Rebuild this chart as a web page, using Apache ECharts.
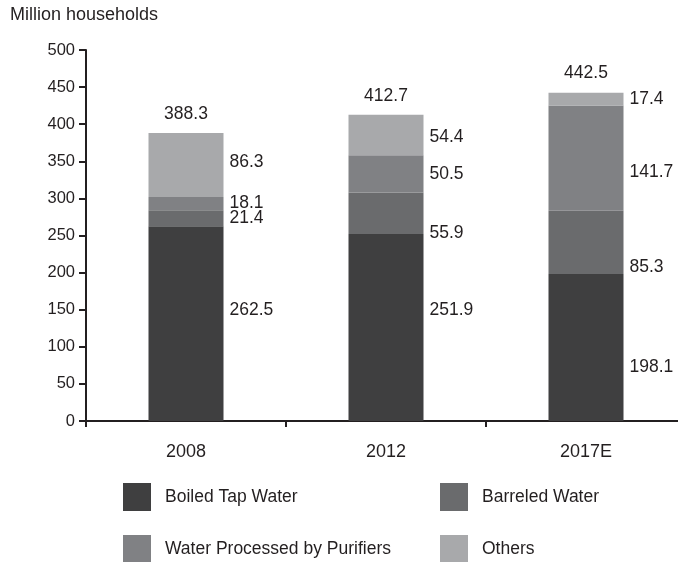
<!DOCTYPE html>
<html><head><meta charset="utf-8">
<script src="https://cdn.jsdelivr.net/npm/echarts@6/dist/echarts.min.js"></script>
<style>html,body{margin:0;padding:0;background:#fff}#c{width:678px;height:562px}</style>
</head><body><div id="c"></div>
<script>
const categories = ['2008', '2012', '2017E'];
const boiled = [262.5, 251.9, 198.1];
const barreled = [21.4, 55.9, 85.3];
const purifiers = [18.1, 50.5, 141.7];
const others = [86.3, 54.4, 17.4];
const totals = [388.3, 412.7, 442.5];
const yTicks = [0, 50, 100, 150, 200, 250, 300, 350, 400, 450, 500];

// per-point vertical label offsets (layout only)
const offBoiled = [-13, -17, 20];
const offBarreled = [0, 20, 25];
const offPurifiers = [0, 0, 14];
const offOthers = [-3, 2, 0];

const ink = '#231f20';
const font = 'Liberation Sans, Arial, sans-serif';

function mk(name, vals, offs, color) {
  return {
    name, type: 'bar', stack: 'a', barWidth: 75,
    itemStyle: { color },
    data: vals.map((v, i) => ({
      value: v,
      label: { offset: [0, offs[i]] }
    })),
    label: {
      show: true, position: 'right', distance: 6,
      color: ink, fontSize: 17.5, fontFamily: font,
      formatter: p => p.value.toFixed(1)
    }
  };
}

function lg(name, left, top) {
  return {
    left, top, padding: 0, itemWidth: 28, itemHeight: 28, icon: 'rect',
    textStyle: { color: ink, fontSize: 17.5, fontFamily: font, padding: [0, 0, 0, 9] },
    data: [name]
  };
}

const chart = echarts.init(document.getElementById('c'), null, { renderer: 'canvas' });
chart.setOption({
  animation: false,
  textStyle: { fontFamily: font },
  graphic: [{
    type: 'text', left: 10, top: 6,
    style: { text: 'Million households', fill: ink, font: '18px Liberation Sans, Arial, sans-serif' }
  }],
  grid: { left: 86, top: 50, width: 600, height: 371, outerBoundsMode: 'none', containLabel: false },
  legend: [
    lg('Boiled Tap Water', 123, 483),
    lg('Barreled Water', 440, 483),
    lg('Water Processed by Purifiers', 123, 535),
    lg('Others', 440, 535)
  ],
  xAxis: {
    type: 'category', data: categories,
    axisLine: { lineStyle: { color: ink, width: 2 } },
    axisTick: { show: true, length: 6, lineStyle: { color: ink, width: 2 } },
    axisLabel: { color: ink, fontSize: 18, fontFamily: font, margin: 22 }
  },
  yAxis: {
    type: 'value', min: yTicks[0], max: yTicks[yTicks.length - 1], interval: 50,
    splitLine: { show: false },
    axisLine: { show: true, lineStyle: { color: ink, width: 2 } },
    axisTick: { show: true, length: 7, lineStyle: { color: ink, width: 2 } },
    axisLabel: { color: ink, fontSize: 16.5, fontFamily: font, margin: 11 }
  },
  series: [
    mk('Boiled Tap Water', boiled, offBoiled, '#3f3f40'),
    mk('Barreled Water', barreled, offBarreled, '#6a6b6d'),
    mk('Water Processed by Purifiers', purifiers, offPurifiers, '#808184'),
    mk('Others', others, offOthers, '#a8a9ab'),
    {
      name: 'Total', type: 'scatter', symbolSize: 0, data: totals,
      itemStyle: { opacity: 1 },
      label: {
        show: true, position: 'top', distance: 10,
        color: ink, fontSize: 17.5, fontFamily: font,
        formatter: p => p.value.toFixed(1)
      },
      silent: true
    }
  ]
});
</script>
</body></html>
